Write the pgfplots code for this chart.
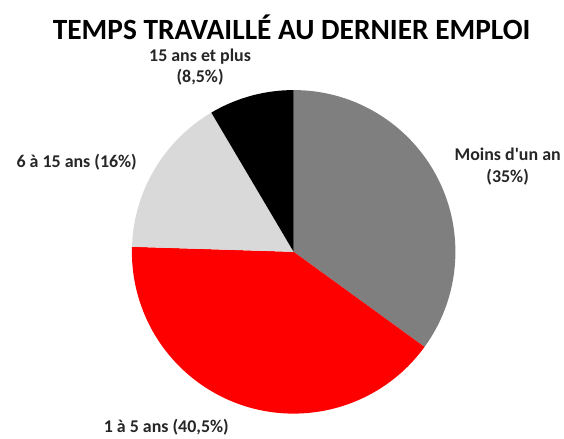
\documentclass[border=0pt]{standalone}
\usepackage{fontspec}
\setmainfont{Carlito}
\usepackage{pgfplots}
\usepackage{pgfplotstable}
\pgfplotsset{compat=1.18}
\definecolor{piegray}{HTML}{7F7F7F}
\definecolor{piered}{HTML}{FF0000}
\definecolor{pielight}{HTML}{D9D9D9}
\definecolor{pieblack}{HTML}{000000}
\pgfplotstableread[col sep=comma]{
value,color
35,piegray
40.5,piered
16,pielight
8.5,pieblack
}\piedata
\begin{document}
\begin{tikzpicture}
\begin{axis}[width=564pt,height=437pt,scale only axis,
  xmin=0,xmax=564,ymin=0,ymax=437,hide axis,clip=false]
\addplot[draw=none] coordinates {(0,0) (564,437)};
\pgfplotsextra{
  \def\start{90}
  \pgfplotsforeachungrouped \i in {0,...,3}{
    \pgfplotstablegetelem{\i}{value}\of\piedata \let\v\pgfplotsretval
    \pgfplotstablegetelem{\i}{color}\of\piedata \let\c\pgfplotsretval
    \pgfmathsetmacro{\endang}{\start-3.6*\v}
    \fill[fill=\c] (axis cs:295,184) -- ++(\start:162.5pt)
      arc[start angle=\start, end angle=\endang, radius=162.5pt] -- cycle;
    \global\let\start\endang
  }
}
\node[font=\fontsize{29.5}{34}\selectfont\bfseries] at (axis cs:293,410) {TEMPS TRAVAILLÉ AU DERNIER EMPLOI};
\node[font=\fontsize{18}{21}\selectfont\bfseries,align=center,text=black!85] at (axis cs:201,370) {15 ans et plus\\(8,5\%)};
\node[font=\fontsize{18}{21}\selectfont\bfseries,text=black!85] at (axis cs:77,274) {6 à 15 ans (16\%)};
\node[font=\fontsize{18}{22}\selectfont\bfseries,align=center,text=black!85] at (axis cs:510,270) {Moins d\textquotesingle un an\\(35\%)};
\node[font=\fontsize{18}{21}\selectfont\bfseries,text=black!85] at (axis cs:167,8) {1 à 5 ans (40,5\%)};
\end{axis}
\end{tikzpicture}
\end{document}
